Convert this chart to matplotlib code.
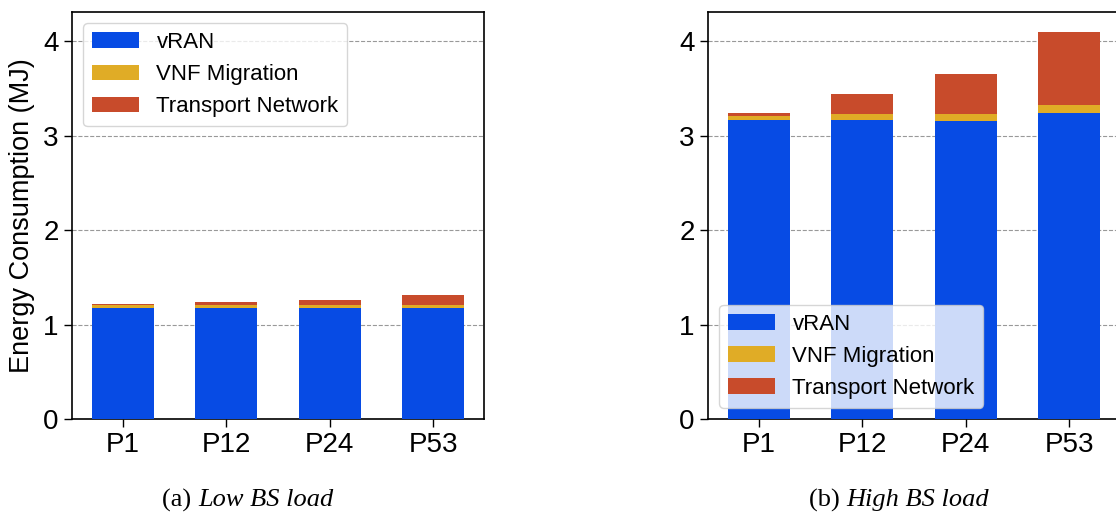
import numpy as np
import matplotlib
matplotlib.use('Agg')
import matplotlib.pyplot as plt

plt.rcParams['font.family'] = ['Liberation Sans', 'DejaVu Sans']

policies = ['P1', 'P12', 'P24', 'P53']
series = ['vRAN', 'VNF Migration', 'Transport Network']

# low BS load
low_vran = [1.18, 1.18, 1.18, 1.18]
low_mig = [0.025, 0.025, 0.025, 0.025]
low_tn = [0.012, 0.033, 0.055, 0.105]

# high BS load
high_vran = [3.17, 3.17, 3.16, 3.245]
high_mig = [0.04, 0.065, 0.075, 0.075]
high_tn = [0.035, 0.21, 0.415, 0.78]

colors = ['#074be4', '#e0ac26', '#c84b2b']

fig = plt.figure(figsize=(11.16, 5.17), dpi=100)
ax1 = fig.add_axes([72/1116, 1 - 419/517, 412/1116, 407/517])
ax2 = fig.add_axes([708/1116, 1 - 419/517, 412/1116, 407/517])

def draw(ax, vran, mig, tn, loc):
    x = np.arange(len(policies))
    ax.bar(x, vran, 0.6, color=colors[0], label=series[0], zorder=3)
    ax.bar(x, mig, 0.6, bottom=vran, color=colors[1], label=series[1], zorder=3)
    bot = np.array(vran) + np.array(mig)
    ax.bar(x, tn, 0.6, bottom=bot, color=colors[2], label=series[2], zorder=3)
    ax.set_xticks(x)
    ax.set_xticklabels(policies, fontsize=20)
    ax.set_yticks([0, 1, 2, 3, 4])
    ax.tick_params(axis='y', labelsize=20, length=6, width=1)
    ax.tick_params(axis='x', length=6, width=1)
    ax.set_xlim(-0.49, 3.49)
    ax.set_ylim(0, 4.31)
    ax.yaxis.grid(True, linestyle='--', color='gray', linewidth=0.8, alpha=0.8, zorder=0)
    ax.set_axisbelow(True)
    for s in ax.spines.values():
        s.set_linewidth(1.2)
    ax.legend(loc=loc, fontsize=16, fancybox=True, framealpha=0.8,
              handlelength=2.1, handletextpad=0.8, labelspacing=0.5)

draw(ax1, low_vran, low_mig, low_tn, 'upper left')
draw(ax2, high_vran, high_mig, high_tn, 'lower left')
ax1.set_ylabel('Energy Consumption (MJ)', fontsize=19.5, labelpad=6)

cap = dict(fontsize=19, family='Liberation Serif', va='center')
fig.text(198/1116, 1 - 500/517, '(a) ', ha='right', **cap)
fig.text(198/1116, 1 - 500/517, 'Low BS load', ha='left', style='italic', **cap)
fig.text(846/1116, 1 - 500/517, '(b) ', ha='right', **cap)
fig.text(846/1116, 1 - 500/517, 'High BS load', ha='left', style='italic', **cap)

plt.savefig('out.png', dpi=100)
